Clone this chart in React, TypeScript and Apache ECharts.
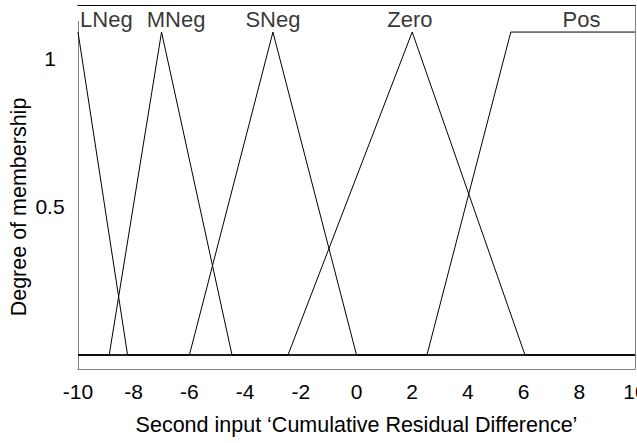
import React, { useEffect, useRef } from "react";
import * as echarts from "echarts";

const mfNames = ["LNeg", "MNeg", "SNeg", "Zero", "Pos"];
const lNeg = [[-10, 1.091], [-8.22, 0], [10, 0]];
const mNeg = [[-10, 0], [-8.88, 0], [-7, 1.091], [-4.47, 0], [10, 0]];
const sNeg = [[-10, 0], [-6, 0], [-3, 1.091], [0, 0], [10, 0]];
const zero = [[-10, 0], [-2.46, 0], [2, 1.091], [6.05, 0], [10, 0]];
const pos = [[-10, 0], [2.53, 0], [5.54, 1.091], [10, 1.091]];
const mfData = [lNeg, mNeg, sNeg, zero, pos];
const labelX = [-8.98, -6.48, -3.0, 1.92, 8.08];
const labelY = 1.132;
const yTickValues = [0.5, 1];
const xMin = -10;
const xMax = 10;
const xStep = 2;
const yMin = -0.0473;
const yMax = 1.1824;

const FONT = "'Liberation Sans', Arial, sans-serif";

export default function App() {
  const ref = useRef<HTMLDivElement>(null);
  useEffect(() => {
    document.body.style.margin = "0";
    const chart = echarts.init(ref.current!, null, { renderer: "svg" });
    const lineSeries = mfData.map((d, i) => ({
      type: "line",
      name: mfNames[i],
      data: d,
      xAxisIndex: 0,
      yAxisIndex: 0,
      symbol: "none",
      lineStyle: { color: "#000", width: 1 },
      silent: true,
    }));
    chart.setOption({
      animation: false,
      backgroundColor: "#fff",
      textStyle: { fontFamily: FONT },
      grid: {
        left: 78,
        right: 2,
        top: 5,
        bottom: 74,
        containLabel: false,
        outerBoundsMode: "none",
      },
      xAxis: [
        {
          type: "value",
          min: xMin,
          max: xMax,
          interval: xStep,
          position: "bottom",
          axisLine: { show: true, onZero: false, lineStyle: { color: "#808080", width: 1 } },
          axisTick: { show: false },
          splitLine: { show: false },
          axisLabel: {
            show: true,
            color: "#000",
            fontSize: 21,
            fontFamily: FONT,
            margin: 12,
            showMinLabel: true,
            showMaxLabel: true,
          },
          name: "Second input \u2018Cumulative Residual Difference\u2019",
          nameLocation: "middle",
          nameGap: 45,
          nameMoveOverlap: false,
          nameTextStyle: { color: "#000", fontSize: 21.5, fontFamily: FONT },
        },
        {
          type: "value",
          min: xMin,
          max: xMax,
          interval: xStep,
          position: "top",
          axisLine: { show: true, onZero: false, lineStyle: { color: "#000", width: 1 } },
          axisTick: { show: false },
          splitLine: { show: false },
          axisLabel: { show: false },
        },
      ],
      yAxis: [
        {
          type: "value",
          min: yMin,
          max: yMax,
          position: "left",
          axisLine: { show: true, onZero: false, lineStyle: { color: "#808080", width: 1 } },
          axisTick: { show: false },
          splitLine: { show: false },
          axisLabel: {
            show: true,
            customValues: yTickValues,
            color: "#000",
            fontSize: 21,
            fontFamily: FONT,
            align: "center",
            margin: 28,
          },
          name: "Degree of membership",
          nameLocation: "middle",
          nameGap: 48,
          nameRotate: 90,
          nameMoveOverlap: false,
          nameTextStyle: {
            color: "#000",
            fontSize: 21.5,
            fontFamily: FONT,
            padding: [0, 40, 0, 0],
          },
        },
        {
          type: "value",
          min: yMin,
          max: yMax,
          position: "right",
          axisLine: { show: true, onZero: false, lineStyle: { color: "#808080", width: 1 } },
          axisTick: { show: false },
          splitLine: { show: false },
          axisLabel: { show: false },
        },
      ],
      graphic: [
        {
          type: "rect",
          z: 100,
          shape: { x: 76, y: 6, width: 4, height: 15 },
          style: { fill: "#fff" },
          silent: true,
        },
      ],
      series: [
        ...lineSeries,
        {
          type: "scatter",
          name: "labels",
          symbolSize: 0,
          silent: true,
          data: mfNames.map((n, i) => ({ name: n, value: [labelX[i], labelY] })),
          label: {
            show: true,
            position: "inside",
            formatter: "{b}",
            color: "#000",
            fontSize: 22,
            fontFamily: FONT,
          },
        },
      ],
    });
    return () => chart.dispose();
  }, []);
  return <div ref={ref} style={{ width: 637, height: 443 }} />;
}
